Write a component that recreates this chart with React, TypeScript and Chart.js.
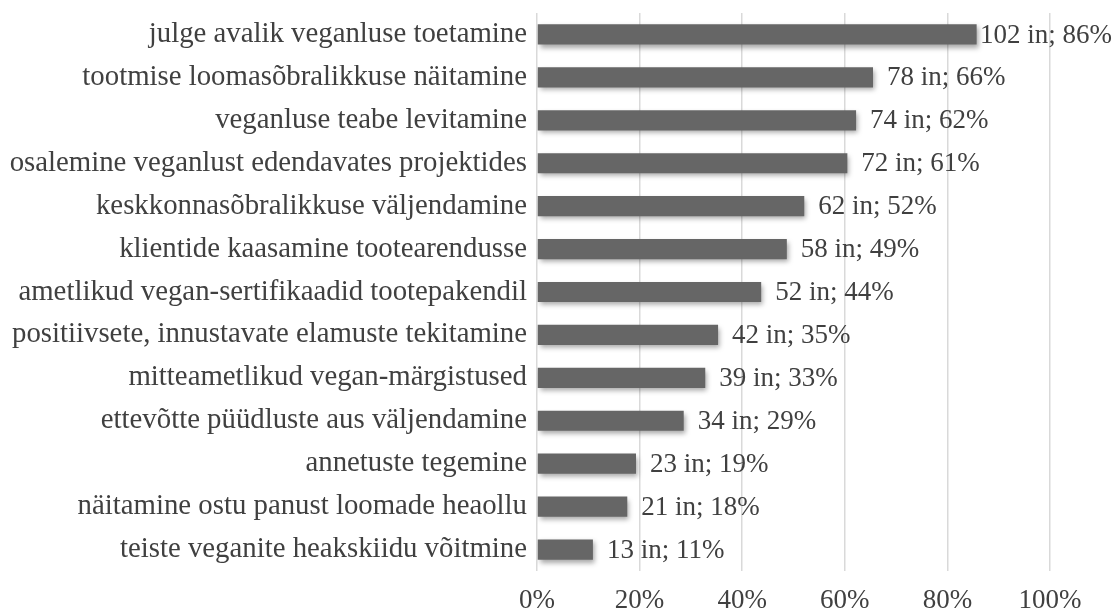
import React, { useEffect, useRef } from "react";
import { Chart, registerables } from "chart.js";

Chart.register(...registerables);

const categories = [
  "julge avalik veganluse toetamine",
  "tootmise loomasõbralikkuse näitamine",
  "veganluse teabe levitamine",
  "osalemine veganlust edendavates projektides",
  "keskkonnasõbralikkuse väljendamine",
  "klientide kaasamine tootearendusse",
  "ametlikud vegan-sertifikaadid tootepakendil",
  "positiivsete, innustavate elamuste tekitamine",
  "mitteametlikud vegan-märgistused",
  "ettevõtte püüdluste aus väljendamine",
  "annetuste tegemine",
  "näitamine ostu panust loomade heaollu",
  "teiste veganite heakskiidu võitmine",
];

const counts = [102, 78, 74, 72, 62, 58, 52, 42, 39, 34, 23, 21, 13];
const percentLabels = ["86%", "66%", "62%", "61%", "52%", "49%", "44%", "35%", "33%", "29%", "19%", "18%", "11%"];
const shareValues = [85.7, 65.5, 62.2, 60.5, 52.1, 48.7, 43.7, 35.3, 32.8, 28.6, 19.3, 17.6, 10.9];
const tickValues = [0, 20, 40, 60, 80, 100];

const FONT = "'Liberation Serif', 'Times New Roman', serif";
const CAT_SIZE = 28.8;
const VAL_SIZE = 27;

export default function App() {
  const ref = useRef<HTMLCanvasElement | null>(null);

  useEffect(() => {
    if (!ref.current) return;
    const shadowPlugin = {
      id: "barShadow",
      beforeDatasetsDraw(chart: any) {
        const ctx = chart.ctx;
        ctx.save();
        ctx.shadowColor = "rgba(0,0,0,0.35)";
        ctx.shadowBlur = 5;
        ctx.shadowOffsetX = 2;
        ctx.shadowOffsetY = 3;
      },
      afterDatasetsDraw(chart: any) {
        chart.ctx.restore();
        const ctx = chart.ctx;
        const meta = chart.getDatasetMeta(0);
        ctx.save();
        ctx.font = `${VAL_SIZE}px ${FONT}`;
        ctx.fillStyle = "#404040";
        ctx.textAlign = "left";
        ctx.textBaseline = "middle";
        meta.data.forEach((bar: any, i: number) => {
          const txt = `${counts[i]} in; ${percentLabels[i]}`;
          const w = ctx.measureText(txt).width;
          const x = Math.min(bar.x + 14, chart.width - 5 - w);
          ctx.fillText(txt, x, bar.y + 1);
        });
        ctx.restore();
      },
    };

    const chart = new Chart(ref.current, {
      type: "bar",
      data: {
        labels: categories,
        datasets: [
          {
            data: shareValues,
            backgroundColor: "#666666",
            borderWidth: 0,
            barPercentage: 0.47,
            categoryPercentage: 1,
          },
        ],
      },
      options: {
        indexAxis: "y",
        animation: false,
        responsive: true,
        maintainAspectRatio: false,
        layout: { padding: { top: 13, right: 67, bottom: 0, left: 0 } },
        plugins: {
          legend: { display: false },
          tooltip: { enabled: false },
        },
        scales: {
          x: {
            min: 0,
            max: 100,
            afterBuildTicks(scale: any) {
              scale.ticks = tickValues.map((v) => ({ value: v }));
            },
            afterFit(scale: any) {
              scale.height = 43;
              scale.paddingLeft = 0;
              scale.paddingRight = 0;
            },
            grid: { color: "#d9d9d9", lineWidth: 1.5, drawTicks: false },
            border: { display: false },
            ticks: {
              padding: 14,
              color: "#404040",
              font: { family: FONT, size: VAL_SIZE },
              callback: (v: any) => `${v}%`,
            },
          },
          y: {
            afterFit(scale: any) {
              scale.width = 537;
              scale.paddingTop = 0;
              scale.paddingBottom = 0;
            },
            grid: { display: false, drawTicks: false },
            border: { display: false },
            ticks: {
              padding: 10,
              color: "#404040",
              font: { family: FONT, size: CAT_SIZE },
            },
          },
        },
      },
      plugins: [shadowPlugin],
    });
    return () => chart.destroy();
  }, []);

  return (
    <div style={{ position: "fixed", left: 0, top: 0, width: 1117, height: 614, background: "#fff" }}>
      <canvas ref={ref} />
    </div>
  );
}
